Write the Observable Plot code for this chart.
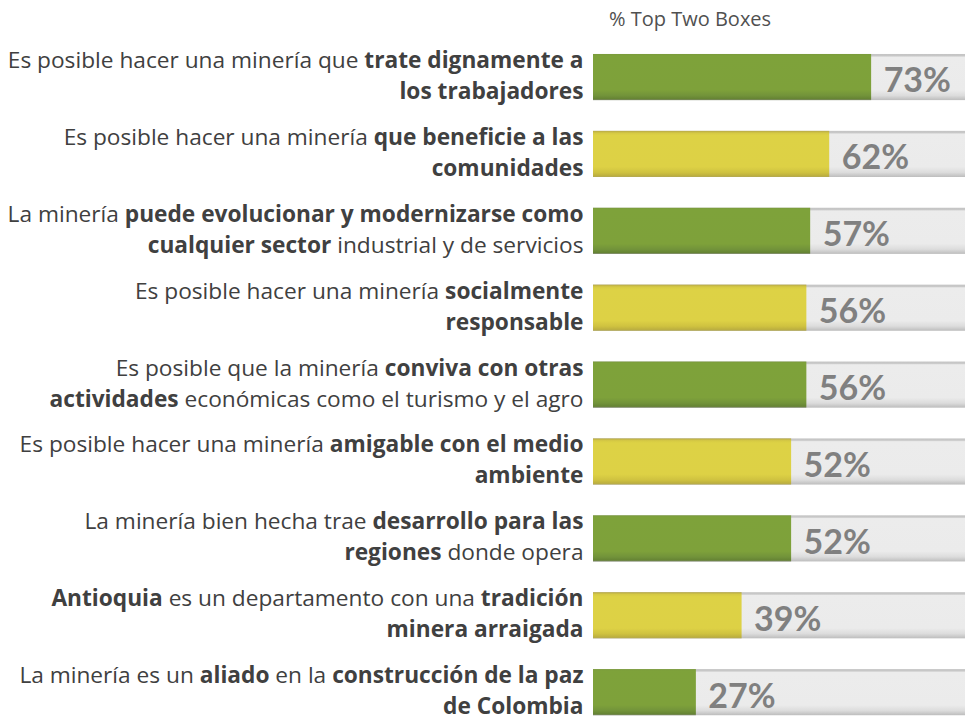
<!DOCTYPE html>
<html>
<head>
<meta charset="utf-8">
<script src="https://cdn.jsdelivr.net/npm/d3@7"></script>
<script src="https://cdn.jsdelivr.net/npm/@observablehq/plot@0.6"></script>
<style>
  html, body { margin: 0; padding: 0; background: #fff; overflow: hidden; }
  #wrap { position: relative; width: 965px; height: 727px; }
  #header { position: absolute; z-index: 2; left: 609px; top: 9px; font-family: "Open Sans", sans-serif; font-size: 20px; line-height: 20px; color: #505050; white-space: nowrap; }
</style>
</head>
<body>
<div id="wrap">
  <div id="header">% Top Two Boxes</div>
</div>
<script>
// ---- data ----
const statements = [
  "Es posible hacer una minería que **trate dignamente a**\n**los trabajadores**",
  "Es posible hacer una minería **que beneficie a las**\n**comunidades**",
  "La minería **puede evolucionar y modernizarse como**\n**cualquier sector** industrial y de servicios",
  "Es posible hacer una minería **socialmente**\n**responsable**",
  "Es posible que la minería **conviva con otras**\n**actividades** económicas como el turismo y el agro",
  "Es posible hacer una minería **amigable con el medio**\n**ambiente**",
  "La minería bien hecha trae **desarrollo para las**\n**regiones** donde opera",
  "**Antioquia** es un departamento con una **tradición**\n**minera arraigada**",
  "La minería es un **aliado** en la **construcción de la paz**\n**de Colombia**"
];
const topTwoBoxes = [0.73, 0.62, 0.57, 0.56, 0.56, 0.52, 0.52, 0.39, 0.27];
const tones = ["green", "yellow", "green", "yellow", "green", "yellow", "green", "yellow", "green"];
const fullScale = 1;

const plain = s => s.replace(/\*\*/g, "");
const rows = statements.map((s, i) => ({
  label: plain(s),
  value: topTwoBoxes[i],
  tone: tones[i],
  full: fullScale
}));
const fmt = d3.format(".0%");

const chart = Plot.plot({
  width: 965,
  height: 727,
  marginLeft: 593,
  marginRight: 0,
  marginTop: 0,
  marginBottom: 0,
  style: { fontFamily: "'Open Sans', sans-serif", background: "transparent", overflow: "hidden" },
  x: { domain: [0, 1], range: [593, 974], axis: null },
  y: { domain: rows.map(d => d.label), range: [38.6, 730.6], paddingInner: 0.4, paddingOuter: 0.2, round: false, axis: null },
  marks: [
    Plot.barX(rows, { x: "full", y: "label", fill: "url(#gradGray)", clip: true, inset: 0 }),
    Plot.barX(rows, { filter: d => d.tone === "green", x: "value", y: "label", fill: "url(#gradGreen)", inset: 0 }),
    Plot.barX(rows, { filter: d => d.tone === "yellow", x: "value", y: "label", fill: "url(#gradYellow)", inset: 0 }),
    Plot.text(rows, {
      x: "value", y: "label", text: d => fmt(d.value),
      textAnchor: "start", dx: 12, dy: 4,
      fontFamily: "Lato, sans-serif",
      fontSize: 34, fontWeight: "bold", fill: "#808080"
    }),
    Plot.text(rows, {
      frameAnchor: "left", y: "label", text: "label",
      textAnchor: "end", dx: -10, dy: -4,
      fontSize: 22.7, lineHeight: 1.366, fill: "#404040"
    })
  ]
});

// gradients for the bevelled bars
const NS = "http://www.w3.org/2000/svg";
const defs = document.createElementNS(NS, "defs");
function grad(id, stops) {
  const g = document.createElementNS(NS, "linearGradient");
  g.setAttribute("id", id);
  g.setAttribute("x1", "0"); g.setAttribute("y1", "0");
  g.setAttribute("x2", "0"); g.setAttribute("y2", "1");
  for (const [o, c] of stops) {
    const s = document.createElementNS(NS, "stop");
    s.setAttribute("offset", o);
    s.setAttribute("stop-color", c);
    g.appendChild(s);
  }
  defs.appendChild(g);
}
grad("gradGray", [[0, "#c4c4c4"], [0.04, "#c8c8c8"], [0.07, "#ececec"], [0.78, "#ebebeb"], [0.9, "#dcdcdc"], [0.97, "#c6c6c6"], [1, "#bdbdbd"]]);
grad("gradGreen", [[0, "#7a9a3c"], [0.04, "#7ea23a"], [0.78, "#7ea13a"], [0.9, "#72933a"], [0.97, "#668434"], [1, "#7d8868"]]);
grad("gradYellow", [[0, "#b7a948"], [0.05, "#d6ca44"], [0.1, "#ddd245"], [0.78, "#ddd145"], [0.9, "#cfc240"], [0.97, "#bdb03f"], [1, "#b2a858"]]);
chart.insertBefore(defs, chart.firstChild);

// rich text (bold segments) for statements
function fillSegments(el, markupLine) {
  while (el.firstChild) el.removeChild(el.firstChild);
  markupLine.split("**").forEach((seg, i) => {
    if (!seg) return;
    const s = document.createElementNS(NS, "tspan");
    if (i % 2 === 1) s.setAttribute("font-weight", "bold");
    s.textContent = seg;
    el.appendChild(s);
  });
}
const byFlat = new Map(statements.map(s => [plain(s).replace("\n", ""), s]));
chart.querySelectorAll("text").forEach(t => {
  const mk = byFlat.get(t.textContent.replace("\n", ""));
  if (!mk) return;
  const lines = mk.split("\n");
  const tspans = [...t.children].filter(c => c.tagName.toLowerCase() === "tspan");
  if (tspans.length === lines.length) {
    tspans.forEach((ts, i) => fillSegments(ts, lines[i]));
  }
});

document.getElementById("wrap").appendChild(chart);
chart.style.position = "absolute";
chart.style.left = "0";
chart.style.top = "0";
chart.style.zIndex = "1";
</script>
</body>
</html>
